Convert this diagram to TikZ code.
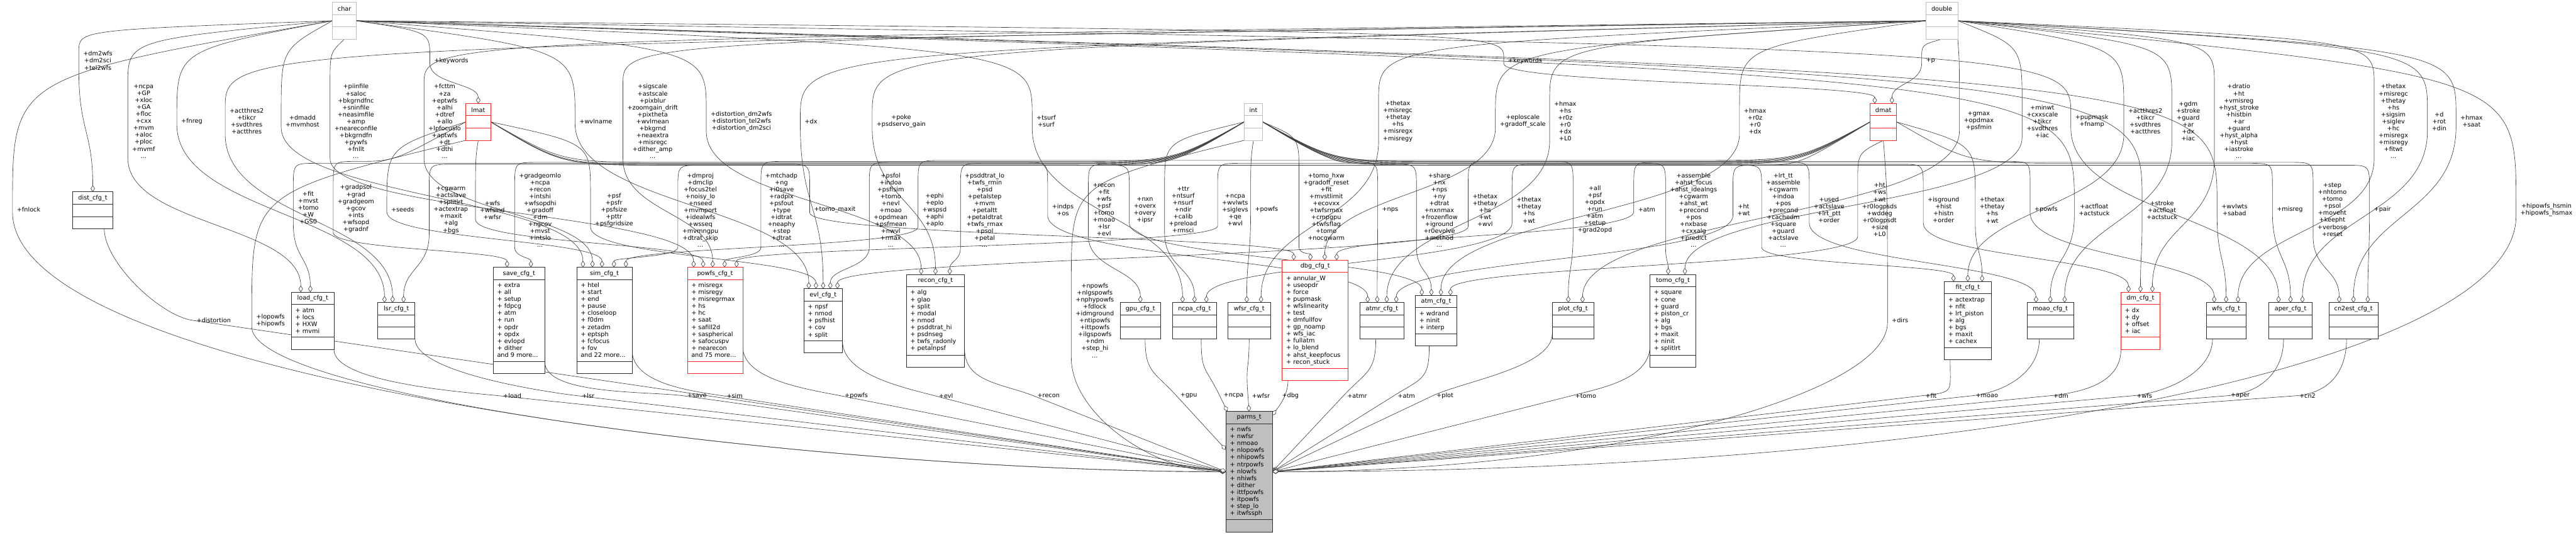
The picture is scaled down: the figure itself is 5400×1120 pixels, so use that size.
\documentclass[tikz,border=0pt]{standalone}
\usepackage{fontspec}
\setmainfont{DejaVu Sans}
\usetikzlibrary{calc,arrows.meta}
\definecolor{edgec}{RGB}{64,64,64}
\definecolor{boxc}{RGB}{45,45,45}
\definecolor{typec}{RGB}{191,191,191}
\definecolor{redc}{RGB}{245,40,40}
\definecolor{parmsfill}{RGB}{191,191,191}
\newcommand\lbl{\fontsize{12.8}{14.6}\selectfont}
\pgfdeclarelayer{back}
\pgfdeclarelayer{edges}
\pgfsetlayers{back,edges,main}
% #1 fill, #2 border colour, #3 name, #4 x, #5 y, #6 width, #7 height, #8 title, #9 attributes
\newcommand\ubox[9][white]{%
  \node[draw=#2, fill=#1, line width=1.2pt, minimum width=#6pt, minimum height=#7pt, inner sep=0pt, outer sep=0pt, anchor=north west] (#3) at (#4,#5) {};
  \draw[draw=#2, line width=1.2pt] ([yshift=-25.5pt]#3.north west) -- ([yshift=-25.5pt]#3.north east) ([yshift=25.5pt]#3.south west) -- ([yshift=25.5pt]#3.south east);
  \node[font=\lbl, inner sep=0pt] at ([yshift=-13pt]#3.north) {#8};
  \node[font=\lbl, inner sep=0pt, anchor=north west, align=left] at ([xshift=8pt,yshift=-31.5pt]#3.north west) {\strut #9};
}
% quadratic approach to a label, then down to target
\newcommand\edgQ[3]{%
  \draw[agg] let \p1=(#1), \p2=($(#2.north west)+(-9pt,0pt)$), \p3=($(#2.south west)+(-9pt,0pt)$), \p4=(#3) in
  (\p1) .. controls (\x2,{\y1+0.3*(\y2-\y1)}) .. (\p2) -- (\p3) .. controls (\x3,{(\y3+\y4)/2}) and (\x4,{(\y3+\y4)/2}) .. (\p4);}
% band routing to the left
\newcommand\edgL[4]{%
  \draw[agg] let \p1=(#1), \p2=($(#3.north west)+(-9pt,0pt)$), \p3=($(#3.south west)+(-9pt,0pt)$), \p4=(#4) in
  (\p1) .. controls ({\x1-150pt},-#2pt) .. ({max(\x2+50pt,\x1-380pt)},-#2pt) -- ({\x2+50pt},-#2pt) .. controls (\x2,-#2pt) .. (\x2,{-#2pt-50pt}) -- (\p3) .. controls (\x3,{(\y3+\y4)/2}) and (\x4,{(\y3+\y4)/2}) .. (\p4);}
% band routing to the right
\newcommand\edgR[4]{%
  \draw[agg] let \p1=(#1), \p2=($(#3.north west)+(-9pt,0pt)$), \p3=($(#3.south west)+(-9pt,0pt)$), \p4=(#4) in
  (\p1) .. controls ({\x1+150pt},-#2pt) .. ({min(\x2-50pt,\x1+380pt)},-#2pt) -- ({\x2-50pt},-#2pt) .. controls (\x2,-#2pt) .. (\x2,{-#2pt-50pt}) -- (\p3) .. controls (\x3,{(\y3+\y4)/2}) and (\x4,{(\y3+\y4)/2}) .. (\p4);}
% struct to parms
\newcommand\edgP[3]{%
  \draw[agg] let \p1=(#1), \p2=($(#2.west)+(-8pt,0pt)$), \p4=(#3) in
  (\p1) .. controls (\x1,{\y1-70pt}) and ($(\p2)!-70pt!(\p4)$) .. (\p2) -- (\p4);}
% type to parms
\newcommand\edgF[5]{%
  \draw[agg] let \p1=(#1), \p2=($(#2.north west)+(-9pt,0pt)$), \p3=($(#2.south west)+(-9pt,0pt)$), \p4=(#3) in
  (\p1) .. controls (\x2,{\y1+0.3*(\y2-\y1)}) .. (\p2) -- (\p3) .. controls (\x3,{\y3-#5pt}) and ({\x4+(#4pt)},\y4) .. (\p4);}
\begin{document}
\begin{tikzpicture}[x=1pt,y=-1pt,
  lab/.style={font=\lbl, align=center, inner sep=0pt},
  agg/.style={draw=edgec, line width=0.85pt, -{Diamond[fill=white,length=14pt,width=9pt]}}]
\begin{pgfonlayer}{back}
\fill[white] (0,0) rectangle (5400,1120);
\end{pgfonlayer}
\useasboundingbox (0,0) rectangle (5400,1120);

% ---------- boxes ----------
\ubox{typec}{nchar}{697}{5}{50}{77}{char}{}
\ubox{typec}{ndouble}{4037}{5}{67}{77}{double}{}
\ubox{typec}{nint}{2608}{217}{39}{77}{int}{}
\ubox{redc}{nlmat}{976}{217}{53}{77}{lmat}{}
\ubox{redc}{ndmat}{3920}{217}{56}{77}{dmat}{}
\ubox{boxc}{ndist}{152}{402}{85}{77}{dist\_cfg\_t}{}
\ubox{boxc}{nload}{611}{612}{89}{120}{load\_cfg\_t}{+ atm\\+ locs\\+ HXW\\+ mvmi}
\ubox{boxc}{nlsr}{792}{634}{78}{76}{lsr\_cfg\_t}{}
\ubox{boxc}{nsave}{1034}{560}{108}{223}{save\_cfg\_t}{+ extra\\+ all\\+ setup\\+ fdpcg\\+ atm\\+ run\\+ opdr\\+ opdx\\+ evlopd\\+ dither\\and 9 more...}
\ubox{boxc}{nsim}{1209}{560}{116}{223}{sim\_cfg\_t}{+ htel\\+ start\\+ end\\+ pause\\+ closeloop\\+ f0dm\\+ zetadm\\+ eptsph\\+ fcfocus\\+ fov\\and 22 more...}
\ubox{redc}{npowfs}{1441}{560}{116}{223}{powfs\_cfg\_t}{+ misregx\\+ misregy\\+ misregrmax\\+ hs\\+ hc\\+ saat\\+ safill2d\\+ saspherical\\+ safocuspv\\+ nearecon\\and 75 more...}
\ubox{boxc}{nevl}{1685}{605}{81}{134}{evl\_cfg\_t}{+ npsf\\+ nmod\\+ psfhist\\+ cov\\+ split}
\ubox{boxc}{nrecon}{1900}{575}{122}{194}{recon\_cfg\_t}{+ alg\\+ glao\\+ split\\+ modal\\+ nmod\\+ psddtrat\_hi\\+ psdnseg\\+ twfs\_radonly\\+ petalnpsf}
\ubox{boxc}{ngpu}{2348}{634}{85}{76}{gpu\_cfg\_t}{}
\ubox{boxc}{nncpa}{2458}{634}{92}{76}{ncpa\_cfg\_t}{}
\ubox{boxc}{nwfsr}{2574}{634}{89}{76}{wfsr\_cfg\_t}{}
\ubox{redc}{ndbg}{2688}{545}{138}{252}{dbg\_cfg\_t}{+ annular\_W\\+ useopdr\\+ force\\+ pupmask\\+ wfslinearity\\+ test\\+ dmfullfov\\+ gp\_noamp\\+ wfs\_iac\\+ fullatm\\+ lo\_blend\\+ ahst\_keepfocus\\+ recon\_stuck}
\ubox{boxc}{natmr}{2851}{634}{92}{76}{atmr\_cfg\_t}{}
\ubox{boxc}{natm}{2967}{619}{87}{106}{atm\_cfg\_t}{+ wdrand\\+ ninit\\+ interp}
\ubox{boxc}{nplot}{3254}{634}{87}{76}{plot\_cfg\_t}{}
\ubox{boxc}{ntomo}{3459}{575}{96}{194}{tomo\_cfg\_t}{+ square\\+ cone\\+ guard\\+ piston\_cr\\+ alg\\+ bgs\\+ maxit\\+ ninit\\+ splitlrt}
\ubox{boxc}{nfit}{4076}{590}{98}{164}{fit\_cfg\_t}{+ actextrap\\+ nfit\\+ lrt\_piston\\+ alg\\+ bgs\\+ maxit\\+ cachex}
\ubox{boxc}{nmoao}{4249}{634}{98}{76}{moao\_cfg\_t}{}
\ubox{redc}{ndm}{4446}{612}{82}{120}{dm\_cfg\_t}{+ dx\\+ dy\\+ offset\\+ iac}
\ubox{boxc}{nwfs}{4625}{634}{83}{76}{wfs\_cfg\_t}{}
\ubox{boxc}{naper}{4756}{634}{91}{76}{aper\_cfg\_t}{}
\ubox{boxc}{ncn2}{4882}{634}{103}{76}{cn2est\_cfg\_t}{}
\ubox[parmsfill]{boxc}{nparms}{2570}{862}{97}{252}{parms\_t}{+ nwfs\\+ nwfsr\\+ nmoao\\+ nlopowfs\\+ nhipowfs\\+ ntrpowfs\\+ nlowfs\\+ nhiwfs\\+ dither\\+ ittfpowfs\\+ itpowfs\\+ step\_lo\\+ itwfssph}

% ---------- labels: top row ----------
\node[lab] (lA1) at (205,127) {+dm2wfs\\+dm2sci\\+tel2wfs};
\node[lab] (lA2) at (301,254) {+ncpa\\+GP\\+xloc\\+GA\\+floc\\+cxx\\+mvm\\+aloc\\+ploc\\+mvmf\\...};
\node[lab] (lA3) at (402,254) {+fnreg};
\node[lab] (lA4) at (517,254) {+actthres2\\+tikcr\\+svdthres\\+actthres};
\node[lab] (lA5) at (634,254) {+dmadd\\+mvmhost};
\node[lab] (lA6) at (746,254) {+piinfile\\+saloc\\+bkgrndfnc\\+sninfile\\+neasimfile\\+amp\\+neareconfile\\+bkgrndfn\\+pywfs\\+fnllt\\...};
\node[lab] (lA7) at (946,127) {+keywords};
\node[lab] (lA8) at (932,254) {+fcttm\\+za\\+eptwfs\\+alhi\\+dtref\\+allo\\+lpfocuslo\\+aptwfs\\+dt\\+dthi\\...};
\node[lab] (lA9) at (1249,254) {+wvlname};
\node[lab] (lA10) at (1368,254) {+sigscale\\+astscale\\+pixblur\\+zoomgain\_drift\\+pixtheta\\+wvlmean\\+bkgrnd\\+neaextra\\+misregc\\+dither\_amp\\...};
\node[lab] (lA11) at (1554,254) {+distortion\_dm2wfs\\+distortion\_tel2wfs\\+distortion\_dm2sci};
\node[lab] (lA12) at (1700,254) {+dx};
\node[lab] (lA13) at (1889,254) {+poke\\+psdservo\_gain};
\node[lab] (lA14) at (2193,254) {+tsurf\\+surf};
\node[lab] (lA15) at (2930,254) {+thetax\\+misregc\\+thetay\\+hs\\+misregx\\+misregy};
\node[lab] (lA16) at (3197,127) {+keywords};
\node[lab] (lA17) at (3192,254) {+eploscale\\+gradoff\_scale};
\node[lab] (lA18) at (3281,254) {+hmax\\+hs\\+r0z\\+r0\\+dx\\+L0};
\node[lab] (lA19) at (3679,254) {+hmax\\+r0z\\+r0\\+dx};
\node[lab] (lA20) at (4047,127) {+p};
\node[lab] (lA21) at (4148,254) {+gmax\\+opdmax\\+psfmin};
\node[lab] (lA22) at (4281,254) {+minwt\\+cxxscale\\+tikcr\\+svdthres\\+iac};
\node[lab] (lA23) at (4385,254) {+pupmask\\+fnamp};
\node[lab] (lA24) at (4497,254) {+actthres2\\+tikcr\\+svdthres\\+actthres};
\node[lab] (lA25) at (4587,254) {+gdm\\+stroke\\+guard\\+ar\\+dx\\+iac};
\node[lab] (lA26) at (4693,254) {+dratio\\+ht\\+vmisreg\\+hyst\_stroke\\+histbin\\+ar\\+guard\\+hyst\_alpha\\+hyst\\+iastroke\\...};
\node[lab] (lA27) at (5017,254) {+thetax\\+misregc\\+thetay\\+hs\\+sigsim\\+siglev\\+hc\\+misregx\\+misregy\\+fitwt\\...};
\node[lab] (lA28) at (5113,254) {+d\\+rot\\+din};
\node[lab] (lA29) at (5181,254) {+hmax\\+saat};

% ---------- labels: middle row ----------
\node[lab] (lB1) at (60,439) {+fnlock};
\node[lab] (lB2) at (646,435) {+fit\\+mvst\\+tomo\\+W\\+GS0};
\node[lab] (lB3) at (746,437) {+gradpsol\\+grad\\+gradgeom\\+gcov\\+ints\\+wfsopd\\+gradnf};
\node[lab] (lB4) at (844,439) {+seeds};
\node[lab] (lB5) at (945,440) {+cgwarm\\+actslave\\+splitlrt\\+actextrap\\+maxit\\+alg\\+bgs};
\node[lab] (lB6) at (1032,440) {+wfs\\+wfsind\\+wfsr};
\node[lab] (lB7) at (1132,440) {+gradgeomlo\\+ncpa\\+recon\\+intshi\\+wfsopdhi\\+gradoff\\+dm\\+ngcov\\+mvst\\+intslo\\...};
\node[lab] (lB8) at (1287,440) {+psf\\+psfr\\+psfsize\\+pttr\\+psfgridsize};
\node[lab] (lB9) at (1468,440) {+dmproj\\+dmclip\\+focus2tel\\+noisy\_lo\\+nseed\\+mvmport\\+idealwfs\\+wsseq\\+mvmngpu\\+dtrat\_skip\\...};
\node[lab] (lB10) at (1638,440) {+mtchadp\\+ng\\+i0save\\+radpix\\+psfout\\+type\\+idtrat\\+neaphy\\+step\\+dtrat\\...};
\node[lab] (lB11) at (1750,439) {+tomo\_maxit};
\node[lab] (lB12) at (1867,440) {+psfol\\+indoa\\+psfisim\\+tomo\\+nevl\\+moao\\+opdmean\\+psfmean\\+nwvl\\+rmax\\...};
\node[lab] (lB13) at (1959,440) {+ephi\\+eplo\\+wspsd\\+aphi\\+aplo};
\node[lab] (lB14) at (2064,440) {+psddtrat\_lo\\+twfs\_rmin\\+psd\\+petalstep\\+mvm\\+petaltt\\+petaldtrat\\+twfs\_rmax\\+psol\\+petal\\...};
\node[lab] (lB15) at (2228,439) {+indps\\+os};
\node[lab] (lB16) at (2314,439) {+recon\\+fit\\+wfs\\+psf\\+tomo\\+moao\\+lsr\\+evl};
\node[lab] (lB17) at (2400,440) {+nxn\\+overx\\+overy\\+ipsr};
\node[lab] (lB18) at (2480,439) {+ttr\\+ntsurf\\+nsurf\\+ndir\\+calib\\+preload\\+rmsci};
\node[lab] (lB19) at (2589,440) {+ncpa\\+wvlwts\\+siglevs\\+qe\\+wvl};
\node[lab] (lB20) at (2655,439) {+powfs};
\node[lab] (lB21) at (2780,440) {+tomo\_hxw\\+gradoff\_reset\\+fit\\+mvstlimit\\+ecovxx\\+twfsrmax\\+cmpgpu\\+twfsflag\\+tomo\\+nocgwarm\\...};
\node[lab] (lB22) at (2914,439) {+nps};
\node[lab] (lB23) at (3017,440) {+share\\+nx\\+nps\\+ny\\+dtrat\\+nxnmax\\+frozenflow\\+iground\\+r0evolve\\+method\\...};
\node[lab] (lB24) at (3113,440) {+thetax\\+thetay\\+hs\\+wt\\+wvl};
\node[lab] (lB25) at (3205,440) {+thetax\\+thetay\\+hs\\+wt};
\node[lab] (lB26) at (3343,439) {+all\\+psf\\+opdx\\+run\\+atm\\+setup\\+grad2opd};
\node[lab] (lB27) at (3452,439) {+atm};
\node[lab] (lB28) at (3550,440) {+assemble\\+ahst\_focus\\+ahst\_idealngs\\+cgwarm\\+ahst\_wt\\+precond\\+pos\\+nxbase\\+cxxalg\\+predict\\...};
\node[lab] (lB29) at (3655,439) {+ht\\+wt};
\node[lab] (lB30) at (3738,440) {+lrt\_tt\\+assemble\\+cgwarm\\+indoa\\+pos\\+precond\\+cachedm\\+square\\+guard\\+actslave\\...};
\node[lab] (lB31) at (3834,440) {+used\\+actslave\\+lrt\_ptt\\+order};
\node[lab] (lB32) at (3940,439) {+ht\\+ws\\+wt\\+r0logpsds\\+wddeg\\+r0logpsdt\\+size\\+L0};
\node[lab] (lB33) at (4074,440) {+isground\\+hist\\+histn\\+order};
\node[lab] (lB34) at (4176,440) {+thetax\\+thetay\\+hs\\+wt};
\node[lab] (lB35) at (4289,439) {+powfs};
\node[lab] (lB36) at (4390,439) {+actfloat\\+actstuck};
\node[lab] (lB37) at (4532,440) {+stroke\\+actfloat\\+actstuck};
\node[lab] (lB38) at (4684,439) {+wvlwts\\+sabad};
\node[lab] (lB39) at (4800,439) {+misreg};
\node[lab] (lB40) at (4889,439) {+step\\+nhtomo\\+tomo\\+psol\\+moveht\\+keepht\\+verbose\\+reset};
\node[lab] (lB41) at (4994,439) {+pair};
\node[lab] (lB42) at (5338,439) {+hipowfs\_hsmin\\+hipowfs\_hsmax};

% ---------- labels: bottom row ----------
\node[lab] (lC1) at (448,671) {+distortion};
\node[lab] (lC2) at (567,671) {+lopowfs\\+hipowfs};
\node[lab] (lC3) at (1074,829) {+load};
\node[lab] (lC4) at (1233,829) {+lsr};
\node[lab] (lC5) at (1461,829) {+save};
\node[lab] (lC6) at (1540,829) {+sim};
\node[lab] (lC7) at (1795,829) {+powfs};
\node[lab] (lC8) at (1983,829) {+evl};
\node[lab] (lC9) at (2198,829) {+recon};
\node[lab] (lC10) at (2295,671) {+npowfs\\+nlgspowfs\\+nphypowfs\\+fdlock\\+idmground\\+ntipowfs\\+ittpowfs\\+ilgspowfs\\+ndm\\+step\_hi\\...};
\node[lab] (lC11) at (2492,829) {+gpu};
\node[lab] (lC12) at (2586,829) {+ncpa};
\node[lab] (lC13) at (2643,829) {+wfsr};
\node[lab] (lC14) at (2705,829) {+dbg};
\node[lab] (lC15) at (2845,829) {+atmr};
\node[lab] (lC16) at (2948,829) {+atm};
\node[lab] (lC17) at (3029,829) {+plot};
\node[lab] (lC18) at (3324,829) {+tomo};
\node[lab] (lC19) at (3983,671) {+dirs};
\node[lab] (lC20) at (4048,829) {+fit};
\node[lab] (lC21) at (4165,829) {+moao};
\node[lab] (lC22) at (4320,829) {+dm};
\node[lab] (lC23) at (4495,829) {+wfs};
\node[lab] (lC24) at (4696,829) {+aper};
\node[lab] (lC25) at (4837,829) {+cn2};

\begin{pgfonlayer}{edges}
% char
\edgQ{nchar.west}{lA1}{ndist.north}
\edgQ{nchar.west}{lA2}{[xshift=-25pt]nload.north}
\edgQ{nchar.west}{lA3}{[xshift=-25pt]nlsr.north}
\edgQ{nchar.west}{lA5}{[xshift=-45pt]nsim.north}
\edgQ{nchar.south}{lA6}{[xshift=-45pt]npowfs.north}
\edgQ{nchar.east}{lA7}{nlmat.north}
\edgQ{nchar.east}{lA9}{[xshift=-30pt]nevl.north}
\edgQ{nchar.east}{lA11}{[xshift=-30pt]nrecon.north}
\edgQ{nchar.east}{lA14}{[xshift=-25pt]nncpa.north}
\edgQ{nchar.east}{lA16}{[xshift=10pt]ndmat.north west}
\edgQ{nchar.east}{lA23}{[xshift=-25pt]naper.north}
\edgQ{nchar.east}{lB36}{nmoao.north}
\edgQ{nchar.east}{lB37}{ndm.north}
\edgQ{nchar.east}{lB38}{nwfs.north}
\edgF{nchar.west}{lB1}{nparms.west}{-900}{350}
% double
\edgQ{ndouble.west}{lA4}{[xshift=-8pt]nlsr.north}
\edgQ{ndouble.west}{lA8}{[xshift=-25pt]nsim.north}
\edgQ{ndouble.west}{lA10}{[xshift=-5pt]npowfs.north}
\edgQ{ndouble.west}{lA12}{nevl.north}
\edgQ{ndouble.west}{lA13}{nrecon.north}
\edgQ{ndouble.west}{lA15}{[xshift=25pt]nwfsr.north}
\edgQ{ndouble.west}{lA17}{[xshift=20pt]ndbg.north}
\edgQ{ndouble.west}{lA18}{[xshift=10pt]natmr.north}
\edgQ{ndouble.west}{lA19}{[xshift=10pt]natm.north}
\edgQ{ndouble.south}{lA20}{[xshift=-10pt]ndmat.north east}
\edgQ{ndouble.south east}{lA21}{[xshift=20pt]nplot.north}
\edgQ{ndouble.east}{lA22}{[xshift=25pt]ntomo.north}
\edgQ{ndouble.east}{lA24}{nfit.north}
\edgQ{ndouble.east}{lA25}{[xshift=30pt]nmoao.north}
\edgQ{ndouble.east}{lA26}{[xshift=25pt]ndm.north}
\edgQ{ndouble.east}{lA27}{[xshift=25pt]nwfs.north}
\edgQ{ndouble.east}{lA28}{[xshift=25pt]naper.north}
\edgQ{ndouble.east}{lA29}{ncn2.north}
\edgF{ndouble.east}{lB42}{nparms.east}{1500}{300}
% int
\edgL{nint.west}{342}{lB2}{[xshift=-5pt]nload.north}
\edgL{nint.west}{344}{lB5}{[xshift=15pt]nlsr.north}
\edgL{nint.west}{340}{lB7}{[xshift=25pt]nsave.north}
\edgL{nint.west}{346}{lB9}{[xshift=20pt]nsim.north}
\edgL{nint.west}{338}{lB10}{[xshift=20pt]npowfs.north}
\edgL{nint.west}{340}{lB12}{[xshift=15pt]nevl.north}
\edgL{nint.west}{342}{lB14}{[xshift=30pt]nrecon.north}
\edgL{nint.west}{344}{lB16}{ngpu.north}
\edgQ{nint.west}{lB18}{nncpa.north}
\edgQ{nint.south}{lB20}{[xshift=-5pt]nwfsr.north}
\edgQ{nint.east}{lB21}{[xshift=-10pt]ndbg.north}
\edgR{nint.east}{340}{lB22}{[xshift=-10pt]natmr.north}
\edgR{nint.east}{344}{lB23}{[xshift=-10pt]natm.north}
\edgR{nint.east}{338}{lB26}{[xshift=-10pt]nplot.north}
\edgR{nint.east}{342}{lB28}{[xshift=-10pt]ntomo.north}
\edgR{nint.east}{346}{lB30}{[xshift=-30pt]nfit.north}
\edgR{nint.east}{340}{lB31}{[xshift=-30pt]nmoao.north}
\edgR{nint.east}{344}{lB33}{[xshift=-25pt]ndm.north}
\edgR{nint.east}{338}{lB35}{[xshift=-25pt]nwfs.north}
\edgR{nint.east}{340}{lB40}{[xshift=-30pt]ncn2.north}
\edgF{nint.south west}{lC10}{nparms.west}{-150}{120}
% lmat
\edgL{nlmat.west}{338}{lB3}{[xshift=-25pt]nsave.north}
\edgQ{nlmat.west}{lB4}{[xshift=-5pt]nsim.north}
\edgQ{nlmat.south}{lB6}{[xshift=-25pt]npowfs.north}
\edgQ{nlmat.east}{lB8}{[xshift=-15pt]nevl.north}
\edgR{nlmat.east}{344}{lB11}{[xshift=-45pt]ndbg.north}
\edgR{nlmat.east}{340}{lB15}{[xshift=-30pt]natmr.north}
\edgR{nlmat.east}{346}{lB17}{[xshift=-30pt]natm.north}
\edgR{nlmat.east}{346}{lB41}{[xshift=30pt]ncn2.north}
\edgF{nlmat.south west}{lC2}{nparms.west}{-800}{150}
% dmat
\edgL{ndmat.west}{336}{lB13}{[xshift=45pt]nsim.north}
\edgL{ndmat.west}{342}{lB19}{[xshift=45pt]npowfs.north}
\edgL{ndmat.west}{338}{lB24}{[xshift=30pt]nevl.north}
\edgL{ndmat.west}{344}{lB25}{[xshift=25pt]nncpa.north}
\edgL{ndmat.west}{340}{lB27}{[xshift=45pt]ndbg.north}
\edgL{ndmat.west}{346}{lB29}{[xshift=30pt]natmr.north}
\edgQ{ndmat.south}{lB32}{[xshift=30pt]natm.north}
\edgQ{ndmat.east}{lB34}{[xshift=30pt]nfit.north}
\edgR{ndmat.east}{342}{lB39}{naper.north}
\edgF{ndmat.south}{lC19}{nparms.east}{700}{150}
% structs to parms
\edgP{[xshift=24pt]ndist.south}{lC1}{nparms.west}
\edgP{nload.south east}{lC3}{nparms.west}
\edgP{nlsr.south east}{lC4}{nparms.west}
\edgP{[yshift=25pt]nsave.south east}{lC5}{nparms.west}
\edgP{[yshift=50pt]nsim.south east}{lC6}{nparms.west}
\edgP{[yshift=57pt]npowfs.south east}{lC7}{nparms.west}
\edgP{[yshift=25pt]nevl.south east}{lC8}{nparms.west}
\edgP{[yshift=38pt]nrecon.south east}{lC9}{nparms.west}
\edgP{[xshift=10pt]ngpu.south}{lC11}{[yshift=46pt]nparms.west}
\edgP{[xshift=14pt]nncpa.south}{lC12}{[xshift=3pt]nparms.north west}
\edgP{nwfsr.south}{lC13}{nparms.north}
\draw[agg] ([xshift=12pt]ndbg.south west) .. controls +(0pt,-30pt) and +(15pt,20pt) .. ([yshift=-8pt]nparms.north east);
\edgP{[xshift=33pt]natmr.south west}{lC15}{nparms.east}
\edgP{[xshift=29pt]natm.south west}{lC16}{nparms.east}
\edgP{[yshift=11pt]nplot.south west}{lC17}{nparms.east}
\edgP{[yshift=46pt]ntomo.south west}{lC18}{nparms.east}
\edgP{[xshift=12pt]nfit.south west}{lC20}{nparms.east}
\edgP{[xshift=26pt]nmoao.south west}{lC21}{nparms.east}
\edgP{ndm.south west}{lC22}{nparms.east}
\edgP{[xshift=13pt]nwfs.south west}{lC23}{nparms.east}
\edgP{[xshift=31pt]naper.south west}{lC24}{nparms.east}
\edgP{[xshift=37pt]ncn2.south west}{lC25}{nparms.east}
\end{pgfonlayer}
\end{tikzpicture}
\end{document}
